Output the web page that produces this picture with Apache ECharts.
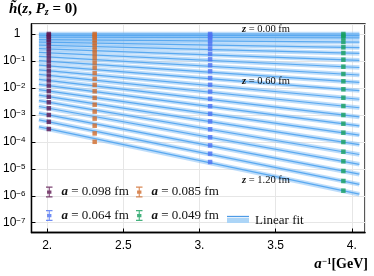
<!DOCTYPE html>
<html><head><meta charset="utf-8">
<script src="https://cdn.jsdelivr.net/npm/echarts@6/dist/echarts.min.js"></script>
<style>html,body{margin:0;padding:0;background:#fff}#c{width:374px;height:276px}</style>
</head><body><div id="c"></div>
<script>
// lattice spacings (fm) and their inverse (GeV) as plotted
const spacingLabels = ['0.098', '0.085', '0.064', '0.049'];
const invA = [2.011, 2.312, 3.07, 3.945];
// log10 of h~(z, Pz=0) for each z line (z = 0.00 ... fm), per ensemble
const log10h_a098 = [0, -0.048, -0.119, -0.208, -0.308, -0.423, -0.553, -0.697, -0.849, -1.013, -1.183, -1.361, -1.539, -1.725, -1.914, -2.118, -2.326, -2.533, -2.756, -3.004, -3.257, -3.524];
const log10h_a085 = [0, -0.052, -0.126, -0.226, -0.338, -0.460, -0.593, -0.734, -0.890, -1.061, -1.246, -1.447, -1.662, -1.888, -2.125, -2.370, -2.622, -2.878, -3.138, -3.401, -3.687, -3.998];
const log10h_a064 = [0, -0.052, -0.122, -0.237, -0.382, -0.549, -0.738, -0.938, -1.161, -1.384, -1.632, -1.884, -2.136, -2.403, -2.678, -2.960, -3.242, -3.535, -3.831, -4.132, -4.440, -4.748];
const log10h_a049 = [0, -0.059, -0.141, -0.297, -0.493, -0.705, -0.953, -1.213, -1.484, -1.754, -2.051, -2.363, -2.671, -3.004, -3.327, -3.661, -4.006, -4.366, -4.722, -5.081, -5.452, -5.812];
// linear fits: log10 value at the two ends of each fitted line
const fitX = [1.946, 4.05];
const fitLeftLog10 = [0, -0.048, -0.118, -0.205, -0.302, -0.414, -0.540, -0.680, -0.828, -0.988, -1.154, -1.327, -1.501, -1.682, -1.867, -2.066, -2.270, -2.471, -2.690, -2.934, -3.183, -3.447];
const fitRightLog10 = [0, -0.060, -0.142, -0.302, -0.504, -0.721, -0.976, -1.242, -1.520, -1.796, -2.100, -2.420, -2.735, -3.077, -3.407, -3.749, -4.101, -4.470, -4.834, -5.199, -5.577, -5.942];
const zAnnotations = ['0.00', '0.60', '1.20'];

const colors = ['#5c1550', '#cf6a2a', '#4d72f2', '#179f5e'];
const pointSets = [log10h_a098, log10h_a085, log10h_a064, log10h_a049];
const serif = 'Liberation Serif';
const sans = 'Liberation Sans';

const series = [];
for (let k = 0; k < fitLeftLog10.length; k++) {
  const d = [[fitX[0], Math.pow(10, fitLeftLog10[k])], [fitX[1], Math.pow(10, fitRightLog10[k])]];
  series.push({type: 'line', name: 'Linear fit', data: d, symbol: 'none', silent: true, z: 1,
    lineStyle: {width: 4.5, color: 'rgba(125,188,245,0.5)'}});
  series.push({type: 'line', name: 'fit' + k, data: d, symbol: 'none', silent: true, z: 2,
    lineStyle: {width: 1.2, color: '#5aa9f0'}});
}
const ebPath = 'path://M0,0H6V1H3.5V3.5H5V6.5H3.5V9H6V10H0V9H2.5V6.5H1V3.5H2.5V1H0Z';
pointSets.forEach((arr, i) => {
  series.push({type: 'scatter', name: 'a' + spacingLabels[i], z: 3, symbol: 'rect', symbolSize: 4.5,
    itemStyle: {color: colors[i]},
    data: arr.map(v => [invA[i], Math.pow(10, v)])});
});

const legendPos = [[46, 185.5], [136, 185.5], [46, 209], [136, 209]];
const legends = spacingLabels.map((s, i) => ({
  data: [{name: 'a' + s, icon: ebPath}], left: legendPos[i][0], top: legendPos[i][1], padding: 0,
  itemWidth: 6.5, itemHeight: 11, selectedMode: false,
  formatter: () => '{i|a} = ' + s + ' fm',
  textStyle: {fontFamily: serif, fontSize: 13, color: '#111', padding: [0, 0, 0, 4],
    rich: {i: {fontFamily: serif, fontSize: 13, fontStyle: 'italic', fontWeight: 'bold', color: '#111'}}}
}));
legends.push({data: [{name: 'Linear fit', icon: 'rect', itemStyle: {color: '#acd5f7'}}],
  left: 227, top: 214, padding: 0, itemWidth: 22, itemHeight: 5, selectedMode: false,
  textStyle: {fontFamily: serif, fontSize: 13, color: '#111', padding: [0, 0, 0, 1]}});

const chart = echarts.init(document.getElementById('c'), null, {renderer: 'canvas'});
chart.setOption({
  animation: false,
  backgroundColor: '#fff',
  grid: {left: 28.5, right: 9, top: 24, bottom: 43.5, show: true, borderColor: '#000', borderWidth: 1.3},
  xAxis: {type: 'value', min: 1.897, max: 4.087,
    axisLine: {lineStyle: {color: '#000', width: 1.3}},
    axisTick: {inside: true, length: 4, lineStyle: {color: '#000'}},
    splitLine: {show: true, lineStyle: {color: '#e6e6e6', width: 1}},
    axisLabel: {showMinLabel: false, showMaxLabel: false, margin: 7, color: '#000', fontFamily: sans, fontSize: 12,
      formatter: v => (Math.abs(v - Math.round(v)) < 1e-9 ? Math.round(v) + '.' : String(v))}},
  yAxis: {type: 'log', logBase: 10, min: 4.34e-8, max: 2.35,
    axisLine: {lineStyle: {color: '#000', width: 1.3}},
    axisTick: {inside: true, length: 4, lineStyle: {color: '#000'}},
    splitLine: {show: true, lineStyle: {color: '#e6e6e6', width: 1}},
    axisLabel: {showMinLabel: false, showMaxLabel: false, margin: 6, color: '#000', fontFamily: sans, fontSize: 12,
      formatter: v => {
        const e = Math.round(Math.log10(v));
        if (e === 0) return '{one|1}';
        return '{b|10}{s|\u2212' + Math.abs(e) + '}';
      },
      rich: {one: {fontFamily: sans, fontSize: 12, padding: [0, 5, 0, 0]},
        b: {fontFamily: sans, fontSize: 12}, s: {fontFamily: sans, fontSize: 8, verticalAlign: 'top', padding: [0, 0, 0, 0]}}}},
  legend: legends,
  graphic: [
    {type: 'text', left: 9, top: 2, style: {text: '{i|h\u0303}{n|(}{i|z}{n|, }{i|P}{sub|z}{n| = 0)}', fill: '#000',
      font: 'bold 15px "Liberation Serif"',
      rich: {i: {fontFamily: serif, fontSize: 15, fontStyle: 'italic', fontWeight: 'bold'},
             n: {fontFamily: serif, fontSize: 15, fontWeight: 'bold'},
             sub: {fontFamily: serif, fontSize: 10, fontStyle: 'italic', fontWeight: 'bold', verticalAlign: 'bottom'}}}},
    {type: 'text', right: 6, top: 257, style: {text: '{i|a}{sup|\u22121}{n|[GeV]}', fill: '#000', font: 'bold 14px "Liberation Serif"',
      rich: {i: {fontFamily: serif, fontSize: 15, fontStyle: 'italic', fontWeight: 'bold'},
             n: {fontFamily: serif, fontSize: 14, fontWeight: 'bold'},
             sup: {fontFamily: serif, fontSize: 9, fontWeight: 'bold', verticalAlign: 'top'}}}},
    {type: 'line', shape: {x1: 227, y1: 216.5, x2: 249, y2: 216.5}, style: {stroke: '#4d9be6', lineWidth: 1.3}, z: 100},
    ...zAnnotations.map((t, i) => ({type: 'text', x: 266, y: [29.3, 81.7, 180.7][i], z: 100,
      style: {text: '{i|z} = ' + t + ' fm', align: 'center', verticalAlign: 'middle', fill: '#111',
        font: '10.5px "Liberation Serif"',
        rich: {i: {fontFamily: serif, fontSize: 10.5, fontStyle: 'italic', fontWeight: 'bold'}}}}))
  ],
  series: series
});
</script></body></html>
